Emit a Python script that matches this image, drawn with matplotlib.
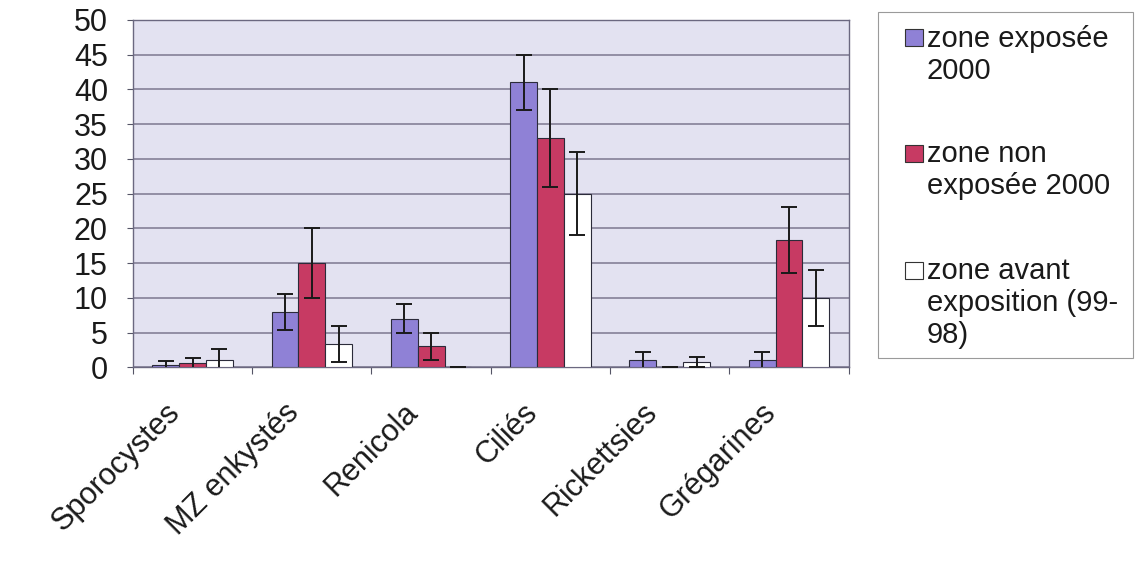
import numpy as np
import matplotlib.pyplot as plt
import matplotlib.transforms as mtransforms
from matplotlib.patches import Rectangle

plt.rcParams['font.family'] = ['Liberation Sans', 'DejaVu Sans']

categories = ['Sporocystes', 'MZ enkystés', 'Renicola', 'Ciliés', 'Rickettsies', 'Grégarines']
series_names = ['zone exposée\n2000', 'zone non\nexposée 2000', 'zone avant\nexposition (99-\n98)']
expo_2000 = [0.3, 8.0, 7.0, 41.0, 1.0, 1.0]
expo_2000_err = [0.6, 2.6, 2.1, 4.0, 1.2, 1.2]
non_expo_2000 = [0.6, 15.0, 3.0, 33.0, 0.0, 18.3]
non_expo_2000_err = [0.8, 5.0, 2.0, 7.0, 0.0, 4.7]
avant_expo = [1.0, 3.3, 0.0, 25.0, 0.8, 10.0]
avant_expo_err = [1.6, 2.6, 0.0, 6.0, 0.7, 4.0]

colors = ['#8F81D6', '#C73A63', '#FFFFFF']

fig = plt.figure(figsize=(11.36, 5.65), dpi=100)
ax = fig.add_axes([0.117, 0.350, 0.630, 0.615])
ax.set_facecolor('#E3E2F1')

x = np.arange(len(categories))
w = 0.225
data = [(expo_2000, expo_2000_err), (non_expo_2000, non_expo_2000_err), (avant_expo, avant_expo_err)]
for i, (vals, errs) in enumerate(data):
    ax.bar(x + (i - 1) * w, vals, w, color=colors[i], edgecolor='#2b2b3a', linewidth=0.8,
           yerr=errs, capsize=6, error_kw=dict(ecolor='#1a1a1a', elinewidth=1.4, capthick=1.4),
           zorder=3)

ax.set_xlim(-0.5, len(categories) - 0.5)
ax.set_ylim(0, 50)
ax.set_yticks(np.arange(0, 51, 5))
ax.tick_params(axis='y', labelsize=22, length=4, color='#555566', pad=14, labelcolor='#1a1a1a')
ax.yaxis.grid(True, color='#7c7890', linewidth=1.1, zorder=0)
ax.set_axisbelow(True)

# category names: placed a bit left of the category centre, like the original
ax.set_xticks(np.arange(-0.5, len(categories)))
ax.set_xticklabels([])
ax.tick_params(axis='x', length=5, color='#555566')
shift = mtransforms.ScaledTranslation(-0.28, -0.30, fig.dpi_scale_trans)
for xi, cat in zip(x, categories):
    ax.text(xi, 0, cat, transform=ax.get_xaxis_transform() + shift, rotation=45,
            ha='right', va='top', rotation_mode='anchor', fontsize=22, color='#1a1a1a')

for s in ax.spines.values():
    s.set_color('#6b6880')
    s.set_linewidth(1.0)

# legend drawn by hand so that each swatch sits on the first line of its label
fig.patches.append(Rectangle((0.773, 0.366), 0.224, 0.613, transform=fig.transFigure,
                             facecolor='white', edgecolor='#9a9a9a', linewidth=0.8))
tops = [0.955, 0.752, 0.545]
swatch_bottoms = [0.9186, 0.714, 0.507]
for i, name in enumerate(series_names):
    fig.patches.append(Rectangle((0.797, swatch_bottoms[i]), 0.0155, 0.030, transform=fig.transFigure,
                                 facecolor=colors[i], edgecolor='#333333', linewidth=0.8))
    fig.text(0.816, tops[i], name, fontsize=21, va='top', ha='left',
             color='#1a1a1a', linespacing=1.17)

fig.savefig('out.png', dpi=100)
